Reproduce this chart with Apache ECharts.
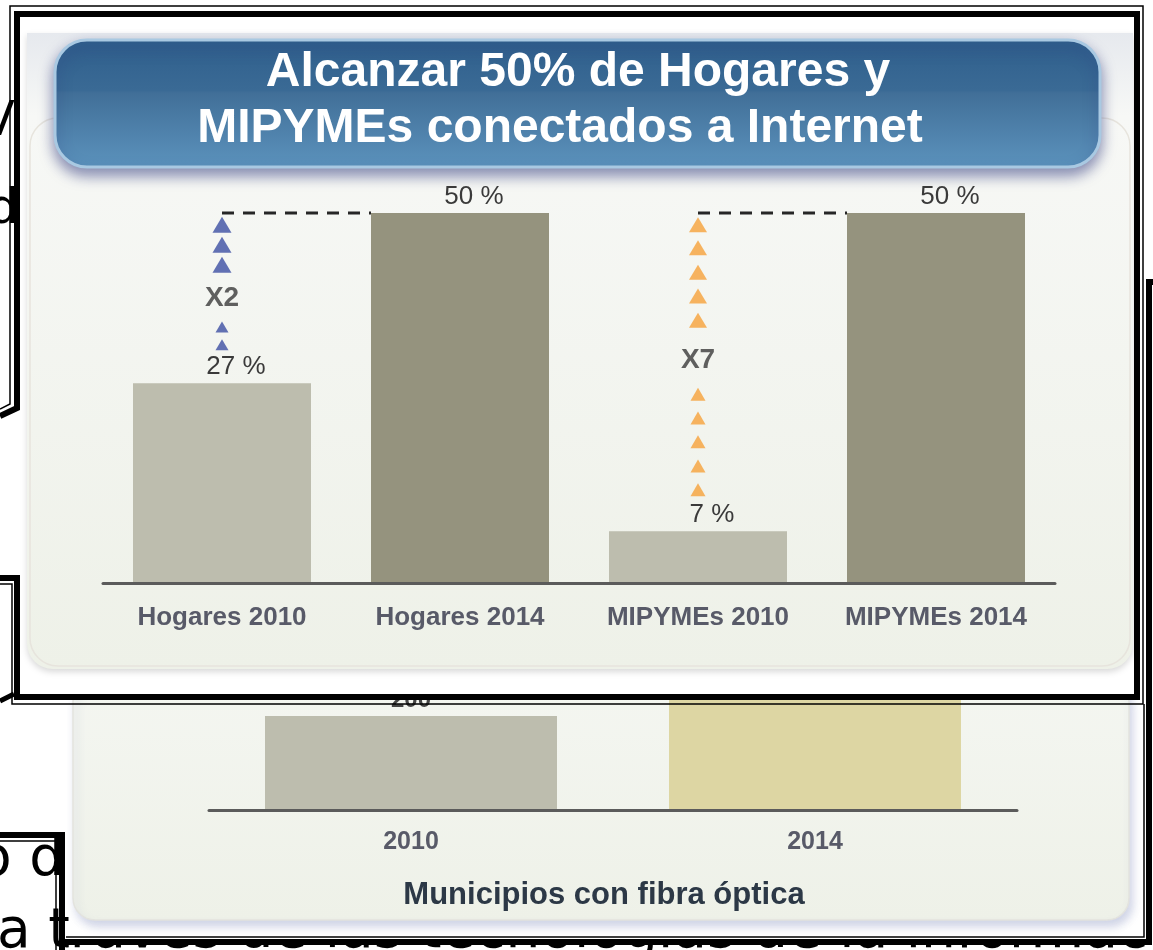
<!DOCTYPE html>
<html>
<head>
<meta charset="utf-8">
<script src="https://cdn.jsdelivr.net/npm/echarts/dist/echarts.min.js"></script>
<style>
  html, body { margin: 0; padding: 0; background: #fff; }
  .capa { position: absolute; left: 0; top: 0; width: 1153px; height: 950px; }
  #hogares { height: 705px; z-index: 3; }
  #fibra { z-index: 2; }
  #fondo { z-index: 1; }
  /* franja bajo el marco inferior: solo se ven las puntas de las letras */
  #franja { position: absolute; left: 66px; top: 939px; width: 1087px; height: 11px; overflow: hidden; z-index: 4; }
  #franjaTexto { position: absolute; left: -66px; top: -939px; width: 1153px; height: 950px; }
</style>
</head>
<body>
<div id="fondo" class="capa"></div>
<div id="fibra" class="capa"></div>
<div id="hogares" class="capa"></div>
<div id="franja"><div id="franjaTexto"></div></div>
<script>
// datos del panel principal
const categorias = ['Hogares 2010', 'Hogares 2014', 'MIPYMEs 2010', 'MIPYMEs 2014'];
const porcentajes = [27, 50, 7, 50];
const tituloLineas = ['Alcanzar 50% de Hogares y', 'MIPYMEs conectados a Internet'];
const multiplicadores = ['X2', 'X7'];
const multiplicadorNivel = [38.5, 30.1];
// flechas (triangulos) entre 2010 y la meta
const flechasAzulGrandes = [48.4, 45.7, 43.0];
const flechasAzulChicas = [34.6, 32.2];
const flechasNaranjaGrandes = [48.4, 45.3, 42.0, 38.8, 35.5];
const flechasNaranjaChicas = [25.5, 22.3, 19.1, 15.8, 12.6];
// panel de abajo (casi tapado)
const anios = ['2010', '2014'];
const municipios = [200, 700];
// texto de la diapositiva de atras
const textoAtras = 'a través de las tecnologías de la información';

const FONT = "'Liberation Sans', Arial, sans-serif";
const claro = '#bdbdae', oscuro = '#95937e';

function linea(points, w, z) {
  return { type: 'polyline', silent: true, z: z || 4,
    shape: { points: points },
    style: { stroke: '#000', lineWidth: w, fill: null } };
}
function texto(t, x, y, size) {
  return { type: 'text', x: x, y: y, silent: true,
    style: { text: t, fill: '#000', font: size + "px 'DejaVu Sans', sans-serif",
      textAlign: 'left', textVerticalAlign: 'middle', align: 'left', verticalAlign: 'middle' } };
}

// ---------- restos de texto de la diapositiva de atras ----------
const fondo = echarts.init(document.getElementById('fondo'));
fondo.setOption({
  animation: false,
  graphic: [
    texto('V', -18, 123, 48),
    texto('d', -12, 211, 48),
    texto('o d', -22, 861, 55),
    texto('a t', -3, 933, 55)
  ]
});
const franja = echarts.init(document.getElementById('franjaTexto'));
franja.setOption({ animation: false, graphic: [texto(textoAtras, -3, 933, 55)] });

// ---------- grafico de fondo: municipios con fibra optica ----------
const fibra = echarts.init(document.getElementById('fibra'));
fibra.setOption({
  animation: false,
  grid: { left: 209, right: 136, top: 340, bottom: 140 },
  xAxis: {
    type: 'category', data: anios, z: 6,
    axisLine: { lineStyle: { color: '#5b5b5b', width: 3 } },
    axisTick: { show: false },
    axisLabel: { fontFamily: FONT, fontSize: 25, fontWeight: 'bold', color: '#585a68', margin: 20 }
  },
  yAxis: { type: 'value', min: 0, max: 1000, show: false, splitLine: { show: false } },
  series: [{
    type: 'bar', z: 5, barWidth: 292,
    data: municipios.map((v, i) => ({ value: v, itemStyle: { color: i === 0 ? claro : '#ddd6a3' } })),
    label: { show: true, position: 'top', distance: 4, fontFamily: FONT, fontSize: 24, fontWeight: 'bold', color: '#444' }
  }],
  graphic: [
    { type: 'rect', silent: true, z: 1,
      shape: { x: 73, y: 680, width: 1056, height: 240, r: 22 },
      style: {
        fill: new echarts.graphic.LinearGradient(0, 0, 0, 1, [
          { offset: 0, color: '#f4f6f1' }, { offset: 1, color: '#eef1e8' }]),
        stroke: '#e3e3de', lineWidth: 1.5,
        shadowBlur: 8, shadowColor: 'rgba(150,160,200,0.45)', shadowOffsetY: 6, shadowOffsetX: 3
      } },
    { type: 'text', silent: true, z: 6, x: 604, y: 895,
      style: { text: 'Municipios con fibra óptica', fill: '#2c3846', font: 'bold 31px ' + FONT,
        textAlign: 'center', textVerticalAlign: 'middle', align: 'center', verticalAlign: 'middle' } },
    // marcos negros
    linea([[1153, 282], [1149, 282], [1149, 942], [62, 942]], 6, 8),
    linea([[1144, 704], [1144, 937], [66, 937]], 1.5, 8),
    linea([[0, 835], [62, 835], [62, 950]], 6, 8),
    linea([[0, 841], [56, 841], [56, 950]], 1.5, 8)
  ]
});

// ---------- grafico principal: hogares y MIPYMEs ----------
const hogares = echarts.init(document.getElementById('hogares'));
const gridIzq = 103, gridDer = 98, anchoBarra = 178;
const banda = (1153 - gridIzq - gridDer) / categorias.length;
const medioBarra = anchoBarra / 2 / banda;   // media barra en unidades de categoria

function flechas(cat, valores, size, color) {
  return {
    type: 'scatter', z: 4, symbol: 'triangle', symbolSize: size,
    itemStyle: { color: color },
    data: valores.map(v => [cat, v])
  };
}
function punteada(desde, hasta) {
  // linea de meta: desde el centro de la barra 2010 hasta el borde de la barra 2014
  const meta = porcentajes[hasta];
  return {
    type: 'line', z: 4, symbol: 'none', xAxisIndex: 1,
    lineStyle: { color: '#262626', width: 3, type: [12, 9] },
    data: [[desde, meta], [hasta - medioBarra, meta]]
  };
}

hogares.setOption({
  animation: false,
  grid: { left: gridIzq, right: gridDer, top: 139, bottom: 122 },
  xAxis: [{
    type: 'category', data: categorias, z: 6,
    axisLine: { lineStyle: { color: '#5b5b5b', width: 3 } },
    axisTick: { show: false },
    axisLabel: { fontFamily: FONT, fontSize: 26, fontWeight: 'bold', color: '#585a68', margin: 22 }
  }, {
    type: 'value', show: false, min: -0.5, max: categorias.length - 0.5
  }],
  yAxis: { type: 'value', min: 0, max: 60, show: false, splitLine: { show: false } },
  series: [
    {
      type: 'bar', z: 3, barWidth: anchoBarra,
      data: porcentajes.map((v, i) => ({ value: v, itemStyle: { color: i % 2 === 0 ? claro : oscuro } })),
      label: { show: true, position: 'top', distance: 3, offset: [14, 0], formatter: '{c} %',
        fontFamily: FONT, fontSize: 26, color: '#3a3a3a' }
    },
    punteada(0, 1),
    punteada(2, 3),
    flechas('Hogares 2010', flechasAzulGrandes, [19, 16], '#3c4fa3'),
    flechas('Hogares 2010', flechasAzulChicas, [13, 11], '#3c4fa3'),
    flechas('MIPYMEs 2010', flechasNaranjaGrandes, [18, 15], '#f6a13a'),
    flechas('MIPYMEs 2010', flechasNaranjaChicas, [15, 13], '#f6a13a'),
    {
      type: 'scatter', z: 5, symbolSize: 1, itemStyle: { color: 'transparent' },
      data: [['Hogares 2010', multiplicadorNivel[0]], ['MIPYMEs 2010', multiplicadorNivel[1]]],
      label: { show: true, position: 'inside', formatter: p => multiplicadores[p.dataIndex],
        fontFamily: FONT, fontSize: 28, fontWeight: 'bold', color: '#3a3a3a' }
    }
  ],
  graphic: [
    // fondo blanco del recuadro
    { type: 'rect', silent: true, z: 0, shape: { x: 17, y: 14, width: 1120, height: 683 }, style: { fill: '#fff' } },
    { type: 'rect', silent: true, z: 0,
      shape: { x: 27, y: 33, width: 1106, height: 636, r: [0, 0, 26, 26] },
      style: {
        fill: new echarts.graphic.LinearGradient(0, 0, 0, 1, [
          { offset: 0, color: '#e6e9ee' }, { offset: 0.13, color: '#f7f8f6' }, { offset: 1, color: '#eef1e8' }]),
        shadowBlur: 6, shadowColor: 'rgba(0,0,0,0.15)', shadowOffsetY: 3
      } },
    { type: 'rect', silent: true, z: 0,
      shape: { x: 30, y: 118, width: 1100, height: 548, r: 28 },
      style: { fill: null, stroke: '#e7e4dd', lineWidth: 1.5 } },
    // caja del titulo
    { type: 'rect', silent: true, z: 1,
      shape: { x: 55, y: 40, width: 1045, height: 127, r: 32 },
      style: {
        fill: new echarts.graphic.LinearGradient(0, 0, 0, 1, [
          { offset: 0, color: '#2f5f8c' }, { offset: 0.4, color: '#3a6a95' },
          { offset: 0.42, color: '#416f98' }, { offset: 1, color: '#5c93bd' }]),
        stroke: '#a9c9e2', lineWidth: 3,
        shadowBlur: 14, shadowColor: 'rgba(40,50,120,0.55)', shadowOffsetY: 7
      } },
    { type: 'text', silent: true, z: 2, x: 578, y: 73,
      style: { text: tituloLineas[0], fill: '#fff', font: 'bold 48px ' + FONT,
        textAlign: 'center', textVerticalAlign: 'middle', align: 'center', verticalAlign: 'middle',
        shadowBlur: 3, shadowColor: 'rgba(0,0,40,0.7)', shadowOffsetY: 1 } },
    { type: 'text', silent: true, z: 2, x: 560, y: 129,
      style: { text: tituloLineas[1], fill: '#fff', font: 'bold 48px ' + FONT,
        textAlign: 'center', textVerticalAlign: 'middle', align: 'center', verticalAlign: 'middle',
        shadowBlur: 3, shadowColor: 'rgba(0,0,40,0.7)', shadowOffsetY: 1 } },
    // marco negro doble
    linea([[0, 416], [17, 408], [17, 14], [1137, 14], [1137, 697], [17, 697], [17, 578], [0, 578]], 6, 10),
    linea([[0, 409], [10, 404], [10, 6], [1143, 6], [1143, 704], [12, 704], [12, 584], [0, 584]], 1.5, 10),
    linea([[0, 701], [14, 694]], 5, 10)
  ]
});
</script>
</body>
</html>
